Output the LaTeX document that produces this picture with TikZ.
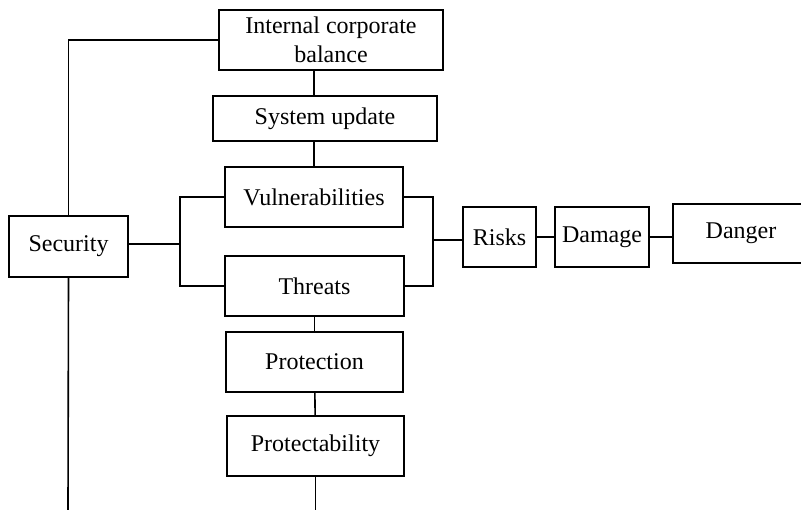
\documentclass[tikz,border=0pt]{standalone}
\usepackage{fontspec}
\setmainfont{Liberation Serif}
\tikzset{box/.style={draw,line width=1.6pt,inner sep=0pt,align=center,font=\fontsize{24}{29}\selectfont},
ln/.style={line width=1.6pt}}
\begin{document}
\begin{tikzpicture}[x=1pt,y=-1pt]
\clip(0,0)rectangle(801,510);
\node[box,minimum width=224,minimum height=60](icb)at(331,40){Internal corporate\\balance};
\node[box,minimum width=224,minimum height=45](upd)at(325,118.5){System update};
\node[box,minimum width=178,minimum height=60](vul)at(314,197){Vulnerabilities};
\node[box,minimum width=179,minimum height=60](thr)at(314.5,286){Threats};
\node[box,minimum width=177,minimum height=60](prot)at(314.5,362){Protection};
\node[box,minimum width=177,minimum height=60](ptb)at(315.5,446){Protectability};
\node[box,minimum width=119,minimum height=61](sec)at(68.5,246.5){Security};
\node[box,minimum width=73,minimum height=60](risk)at(499.5,237){Risks};
\node[box,minimum width=94,minimum height=60](dam)at(602,237){Damage};
\node[box,minimum width=136,minimum height=59](dang)at(741,233.5){Danger};
\coordinate(brl)at(180,244);
\coordinate(brr)at(433,240);
\coordinate(secend)at(68,510);
\coordinate(ptbend)at(315.5,510);
% vertical chain
\draw[ln](icb.south-|vul.north)--(upd.north-|vul.north);
\draw[ln](upd.south-|vul.north)--(vul.north);
\draw[ln](thr)--(prot);
\draw[ln](prot)--(ptb);
\draw[ln](ptb.south)--(ptbend);
% security
\draw[ln](icb.west)-|(sec.north);
\draw[ln](sec.south)--(secend);
\draw[ln](sec.east|-brl)--(brl);
\draw[ln](vul.west)-|(brl)|-(thr.west);
% risks chain
\draw[ln](vul.east)-|(brr)|-(thr.east);
\draw[ln](brr)--(risk.west|-brr);
\draw[ln](risk.east|-dam.east)--(dam.west);
\draw[ln](dam.east)--(dang.west|-dam.east);
\end{tikzpicture}
\end{document}
